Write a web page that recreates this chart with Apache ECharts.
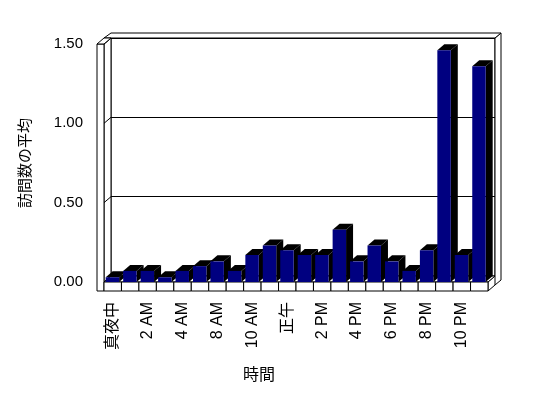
<!DOCTYPE html>
<html>
<head>
<meta charset="utf-8">
<script src="https://cdn.jsdelivr.net/npm/echarts@6/dist/echarts.min.js"></script>
<style>
html,body{margin:0;padding:0;background:#fff;}
#chart{width:548px;height:398px;}
</style>
</head>
<body>
<div id="chart"></div>
<script>
// ---- data ----
const categories = ['真夜中','1 AM','2 AM','3 AM','4 AM','7 AM','8 AM','9 AM','10 AM','11 AM','正午','1 PM','2 PM','3 PM','4 PM','5 PM','6 PM','7 PM','8 PM','9 PM','10 PM','11 PM'];
const values = [0.03,0.07,0.07,0.03,0.07,0.10,0.13,0.07,0.17,0.23,0.20,0.17,0.17,0.33,0.13,0.23,0.13,0.07,0.20,1.46,0.17,1.36];
const yTicks = [0, 0.5, 1.0, 1.5];
const xTitle = '時間';
const yTitle = '訪問数の平均';

// ---- layout / style ----
const FONT = "'Liberation Sans','Noto Sans CJK JP',sans-serif";
const FRONT = {left:104, right:60, top:44, bottom:116};
const D = [7, -6];          // depth offset
const WALL = 7;             // left wall thickness
const FLOOR = 9;            // floor thickness
const SLAB = [6, -5];       // back wall thickness
const BACK = {left:FRONT.left + D[0], right:FRONT.right - D[0], top:FRONT.top + D[1], bottom:FRONT.bottom - D[1]};
const yMax = yTicks[yTicks.length-1];
const yInt = yTicks[1]-yTicks[0];

const chart = echarts.init(document.getElementById('chart'), null, {renderer:'canvas'});

function frameItem(params, api){
  const n = categories.length;
  const p0 = api.coord([0, 0]);
  const band = api.size([1, 0])[0];
  const left = p0[0] - band/2;
  const right = left + band*n;
  const yBase = p0[1];
  const yTop = api.coord([0, yMax])[1];
  const st = {fill:'#fff', stroke:'#000', lineWidth:1};
  const ch = [];
  ch.push({type:'polygon', shape:{points:[
    [right, yBase],[right, yBase+FLOOR],[right+D[0], yBase+FLOOR+D[1]],
    [right+D[0]+SLAB[0], yBase+FLOOR+D[1]+SLAB[1]],
    [right+D[0]+SLAB[0], yTop+D[1]+SLAB[1]],
    [right+D[0], yTop+D[1]],[right+D[0], yBase+D[1]]]}, style:st});
  ch.push({type:'line', shape:{x1:right+D[0], y1:yBase+D[1], x2:right+D[0], y2:yBase+FLOOR+D[1]}, style:{stroke:'#000'}});
  ch.push({type:'polygon', shape:{points:[
    [left+D[0]-WALL, yTop+D[1]],[right+D[0], yTop+D[1]],
    [right+D[0]+SLAB[0], yTop+D[1]+SLAB[1]],[left+D[0], yTop+D[1]+SLAB[1]]]}, style:st});
  ch.push({type:'polygon', shape:{points:[[left,yTop],[left+D[0],yTop+D[1]],[left+D[0],yBase+D[1]],[left,yBase]]}, style:st});
  yTicks.forEach(function(t){
    const y = api.coord([0, t])[1];
    ch.push({type:'line', shape:{x1:left, y1:y, x2:left+D[0], y2:y+D[1]}, style:{stroke:'#000'}});
  });
  ch.push({type:'polygon', shape:{points:[[left,yBase],[right,yBase],[right+D[0],yBase+D[1]],[left+D[0],yBase+D[1]]]}, style:st});
  ch.push({type:'rect', shape:{x:left-WALL, y:yTop, width:WALL, height:yBase+FLOOR-yTop}, style:st});
  ch.push({type:'polygon', shape:{points:[[left-WALL,yTop],[left,yTop],[left+D[0],yTop+D[1]],[left-WALL+D[0],yTop+D[1]]]}, style:st});
  for (let k=0;k<n;k++){
    ch.push({type:'rect', shape:{x:left+k*band, y:yBase, width:band, height:FLOOR}, style:st});
  }
  return {type:'group', children:ch};
}

function barItem(params, api){
  const i = api.value(0), v = api.value(1);
  const base = api.coord([i, 0]);
  const top = api.coord([i, v]);
  const band = api.size([1, 0])[0];
  const w = band*0.77;
  const x0 = base[0] - w/2 - 0.3;
  const yt = top[1], yb = base[1];
  return {type:'group', children:[
    {type:'polygon', shape:{points:[[x0+w,yt],[x0+w+D[0],yt+D[1]],[x0+w+D[0],yb+D[1]],[x0+w,yb]]}, style:{fill:'#000'}},
    {type:'polygon', shape:{points:[[x0,yt],[x0+w,yt],[x0+w+D[0],yt+D[1]],[x0+D[0],yt+D[1]]]}, style:{fill:'#000'}},
    {type:'rect', shape:{x:x0, y:yt, width:w, height:yb-yt}, style:{fill:'#000080'}}
  ]};
}

const option = {
  backgroundColor:'#fff',
  animation:false,
  textStyle:{fontFamily:FONT},
  grid:[
    Object.assign({show:false, containLabel:false}, FRONT),
    Object.assign({show:true, borderColor:'#000', borderWidth:1, backgroundColor:'#fff', containLabel:false}, BACK)
  ],
  xAxis:[
    {type:'category', gridIndex:0, data:categories,
     axisLine:{show:false}, axisTick:{show:false},
     axisLabel:{interval:1, rotate:90, margin:20, fontSize:16, color:'#000', fontFamily:FONT},
     name:xTitle, nameLocation:'middle', nameGap:86,
     nameTextStyle:{fontSize:16, color:'#000', fontFamily:FONT, padding:[0,74,0,0]}},
    {type:'category', gridIndex:1, data:categories, show:false}
  ],
  yAxis:[
    {type:'value', gridIndex:0, min:0, max:yMax, interval:yInt, offset:WALL,
     axisLine:{show:true, lineStyle:{color:'#000', width:1}},
     axisTick:{show:true, inside:true, length:WALL, lineStyle:{color:'#000'}},
     splitLine:{show:false},
     axisLabel:{margin:14, fontSize:15, color:'#000', fontFamily:FONT, formatter:function(v){return v.toFixed(2);}},
     name:yTitle, nameLocation:'middle', nameRotate:90, nameGap:64,
     nameTextStyle:{fontSize:15, color:'#000', fontFamily:FONT}},
    {type:'value', gridIndex:1, min:0, max:yMax, interval:yInt,
     axisLine:{show:false}, axisTick:{show:false}, axisLabel:{show:false},
     splitLine:{show:true, lineStyle:{color:'#000', width:1}}}
  ],
  series:[
    {type:'custom', name:'frame', xAxisIndex:0, yAxisIndex:0, z:1, silent:true,
     data:[[0,0]], renderItem:frameItem, clip:false},
    {type:'custom', name:'訪問数の平均', xAxisIndex:0, yAxisIndex:0, z:3, clip:false,
     data:values.map(function(v,i){return [i,v];}), renderItem:barItem}
  ]
};
chart.setOption(option);
</script>
</body>
</html>
